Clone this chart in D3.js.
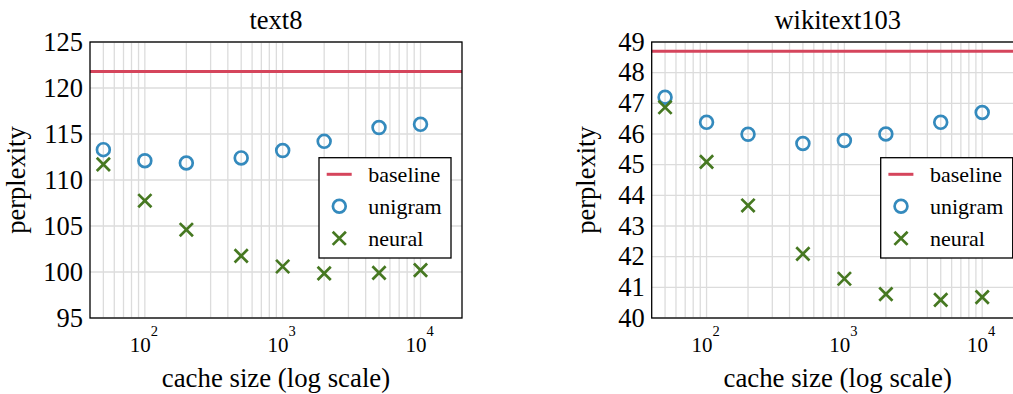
<!DOCTYPE html>
<html>
<head>
<meta charset="utf-8">
<script src="https://cdn.jsdelivr.net/npm/d3@7"></script>
<style>
  html, body { margin: 0; padding: 0; background: #fff; overflow: hidden; }
</style>
</head>
<body>
<div id="chart"></div>
<script>
// cache sizes on the x axis
const cacheSizes = [50, 100, 200, 500, 1000, 2000, 5000, 10000];
const xTickValues = [100, 1000, 10000];
const xTickExponents = ['2', '3', '4'];
const seriesNames = ['baseline', 'unigram', 'neural'];

// text8
const text8Baseline = 121.8;
const text8Unigram = [113.3, 112.1, 111.85, 112.4, 113.2, 114.2, 115.7, 116.05];
const text8Neural = [111.7, 107.75, 104.6, 101.75, 100.6, 99.85, 99.9, 100.2];
const text8YTicks = [95, 100, 105, 110, 115, 120, 125];

// wikitext103
const wikiBaseline = 48.7;
const wikiUnigram = [47.2, 46.38, 45.99, 45.69, 45.79, 46.0, 46.38, 46.7];
const wikiNeural = [46.87, 45.09, 43.67, 42.09, 41.28, 40.78, 40.59, 40.68];
const wikiYTicks = [40, 41, 42, 43, 44, 45, 46, 47, 48, 49];

const colors = { baseline: '#d5455c', unigram: '#348abd', neural: '#467821' };
const serif = "'Liberation Serif', 'Times New Roman', Times, 'DejaVu Serif', serif";

const width = 1013, height = 394;
const svg = d3.select('#chart').append('svg')
  .attr('width', width)
  .attr('height', height)
  .attr('font-family', serif)
  .style('font-family', serif);

const panels = [
  { title: 'text8', left: 90, yDomain: [95, 125], yTicks: text8YTicks, baseline: text8Baseline,
    unigram: text8Unigram, neural: text8Neural, yLabelX: 25 },
  { title: 'wikitext103', left: 651.7, yDomain: [40, 49], yTicks: wikiYTicks, baseline: wikiBaseline,
    unigram: wikiUnigram, neural: wikiNeural, yLabelX: 594.5 }
];

const plotTop = 42, plotBottom = 318, plotW = 372;
const crossPath = 'M-6.6,-6.6L6.6,6.6M-6.6,6.6L6.6,-6.6';

panels.forEach(p => {
  const x = d3.scaleLog().domain([40, 20000]).range([p.left, p.left + plotW]);
  const y = d3.scaleLinear().domain(p.yDomain).range([plotBottom, plotTop]);
  const g = svg.append('g');

  // grid: minor + major on x, major on y
  const xGrid = x.ticks().filter(v => v > 40 && v < 20000);
  g.selectAll('.xg').data(xGrid).enter().append('line')
    .attr('x1', d => x(d)).attr('x2', d => x(d))
    .attr('y1', plotTop).attr('y2', plotBottom)
    .attr('stroke', '#dcdcdc').attr('stroke-width', 1.3);
  g.selectAll('.yg').data(p.yTicks).enter().append('line')
    .attr('x1', p.left).attr('x2', p.left + plotW)
    .attr('y1', d => y(d)).attr('y2', d => y(d))
    .attr('stroke', '#dcdcdc').attr('stroke-width', 1.3);

  // baseline
  g.append('line')
    .attr('x1', p.left).attr('x2', p.left + plotW)
    .attr('y1', y(p.baseline)).attr('y2', y(p.baseline))
    .attr('stroke', colors.baseline).attr('stroke-width', 3);

  // unigram circles
  g.selectAll('.uni').data(cacheSizes).enter().append('circle')
    .attr('cx', d => x(d))
    .attr('cy', (d, i) => y(p.unigram[i]))
    .attr('r', 6.4)
    .attr('fill', 'none')
    .attr('stroke', colors.unigram)
    .attr('stroke-width', 2.7);

  // neural crosses
  g.selectAll('.neu').data(cacheSizes).enter().append('path')
    .attr('transform', (d, i) => `translate(${x(d)},${y(p.neural[i])})`)
    .attr('d', crossPath)
    .attr('stroke', colors.neural)
    .attr('stroke-width', 2.7);

  // frame
  g.append('rect')
    .attr('x', p.left).attr('y', plotTop)
    .attr('width', plotW).attr('height', plotBottom - plotTop)
    .attr('fill', 'none').attr('stroke', '#000').attr('stroke-width', 1.3);

  // y tick labels
  g.selectAll('.yt').data(p.yTicks).enter().append('text')
    .attr('x', p.left - 7)
    .attr('y', d => y(d))
    .attr('dy', '0.33em')
    .attr('text-anchor', 'end')
    .attr('font-size', 26.5)
    .text(d => d);

  // x tick labels 10^n
  const xt = g.selectAll('.xt').data(xTickValues).enter().append('text')
    .attr('x', d => x(d) - 1)
    .attr('y', plotBottom + 33.7)
    .attr('text-anchor', 'middle')
    .attr('font-size', 21);
  xt.append('tspan').text('10');
  xt.append('tspan').attr('dy', -16).attr('font-size', 14.5).text((d, i) => xTickExponents[i]);

  // title
  g.append('text')
    .attr('x', p.left + plotW / 2)
    .attr('y', 29)
    .attr('text-anchor', 'middle')
    .attr('font-size', 26.5)
    .text(p.title);

  // axis labels
  g.append('text')
    .attr('x', p.left + plotW / 2)
    .attr('y', 387)
    .attr('text-anchor', 'middle')
    .attr('font-size', 26.8)
    .text('cache size (log scale)');
  g.append('text')
    .attr('transform', `translate(${p.yLabelX},${(plotTop + plotBottom) / 2}) rotate(-90)`)
    .attr('text-anchor', 'middle')
    .attr('font-size', 26.5)
    .text('perplexity');

  // legend
  const lx = p.left + plotW - 11 - 132, ly = 157.7;
  const lg = g.append('g').attr('transform', `translate(${lx},${ly})`);
  lg.append('rect')
    .attr('width', 132).attr('height', 100.3)
    .attr('fill', '#fff').attr('stroke', '#000').attr('stroke-width', 1.3);
  seriesNames.forEach((name, i) => {
    const cy = 16.6 + i * 32;
    if (name === 'baseline') {
      lg.append('line').attr('x1', 7.7).attr('x2', 32.7).attr('y1', cy).attr('y2', cy)
        .attr('stroke', colors.baseline).attr('stroke-width', 3);
    } else if (name === 'unigram') {
      lg.append('circle').attr('cx', 20.3).attr('cy', cy).attr('r', 6.4)
        .attr('fill', 'none').attr('stroke', colors.unigram).attr('stroke-width', 2.7);
    } else {
      lg.append('path').attr('transform', `translate(20.3,${cy})`)
        .attr('d', crossPath)
        .attr('stroke', colors.neural).attr('stroke-width', 2.7);
    }
    lg.append('text')
      .attr('x', 49.3).attr('y', cy)
      .attr('dy', '0.33em')
      .attr('font-size', 22)
      .text(name);
  });
});
</script>
</body>
</html>
